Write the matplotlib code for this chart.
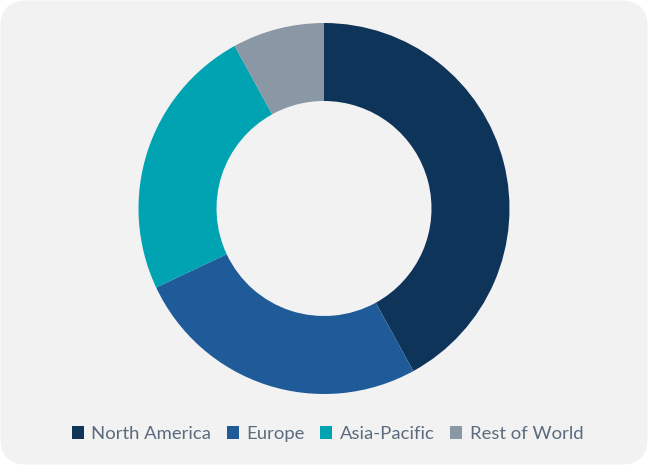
import matplotlib.pyplot as plt
from matplotlib.patches import FancyBboxPatch

regions = ["North America", "Europe", "Asia-Pacific", "Rest of World"]
shares = [42, 26, 24, 8]
colors = ["#0F3459", "#1F5B99", "#00A3B1", "#8A98A5"]

plt.rcParams['font.family'] = ['Lato', 'DejaVu Sans']

fig = plt.figure(figsize=(6.48, 4.65), dpi=100, facecolor="white")
ax = fig.add_axes([0, 0, 1, 1])

# rounded grey card behind the chart
ax.add_patch(FancyBboxPatch((0.5, 0.5), 647, 464, boxstyle="round,pad=0,rounding_size=26",
                            fc="#F2F2F2", ec="none", zorder=0))

wedges, _ = ax.pie(shares, colors=colors, startangle=90, counterclock=False,
                   center=(324, 465 - 208.5), radius=185.5,
                   wedgeprops=dict(width=78, edgecolor="none"), frame=True)
ax.set_xlim(0, 648)
ax.set_ylim(0, 465)
ax.set_aspect("equal")
ax.axis("off")

leg = ax.legend(wedges, regions, loc="center", bbox_to_anchor=(327.5, 465 - 434),
                bbox_transform=ax.transData, ncol=4, frameon=False,
                handlelength=0.65, handleheight=0.65, handletextpad=0.4,
                columnspacing=0.85, fontsize=13.3)
for t in leg.get_texts():
    t.set_color("#5B6B7D")

fig.savefig("out.png", dpi=100, facecolor="white")
